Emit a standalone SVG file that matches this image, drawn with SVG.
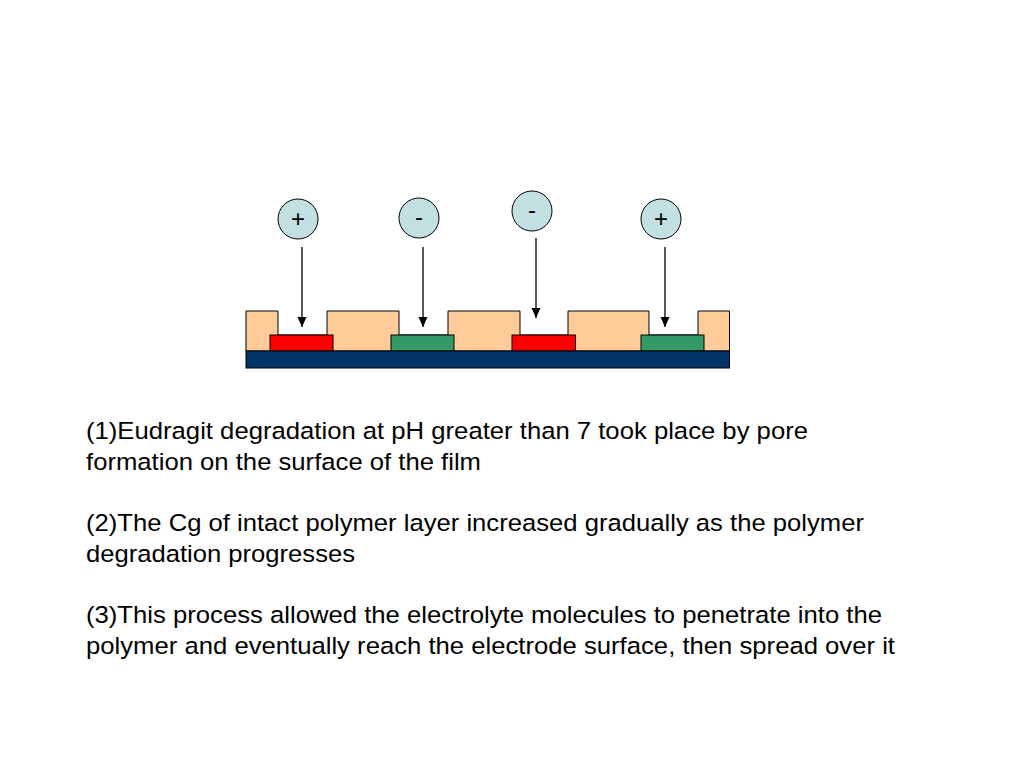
<svg xmlns="http://www.w3.org/2000/svg" width="1024" height="768" viewBox="0 0 1024 768">
<defs>
<style>
.ion{fill:#C2DFE2;stroke:#000;stroke-width:1}
.ionlbl{font-family:"Liberation Sans",Arial,sans-serif;font-size:24px;fill:#000;text-anchor:middle}
.film{fill:#FFCC99;stroke:#000;stroke-width:1}
.red{fill:#FF0000;stroke:#000;stroke-width:1}
.green{fill:#339966;stroke:#000;stroke-width:1}
.sub{fill:#003366;stroke:#000;stroke-width:1}
.arr{stroke:#000;stroke-width:1.3;fill:none;marker-end:url(#ah)}
.txt{font-family:"Liberation Sans",Arial,sans-serif;font-size:24.5px;fill:#000}
</style>
<marker id="ah" markerWidth="12" markerHeight="12" refX="10" refY="5" orient="auto" markerUnits="userSpaceOnUse">
<path d="M0,0.5 L10,5 L0,9.5 Z" fill="#000"/>
</marker>
</defs>
<rect width="1024" height="768" fill="#fff"/>
<g id="film">
<path class="film" d="M246,351 V311 H278 V335 H327 V311 H399 V335 H448 V311 H520 V335 H568 V311 H649 V335 H698 V311 H729.5 V351 Z"/>
</g>
<g id="electrode1"><rect class="red" x="270" y="335" width="63" height="16"/></g>
<g id="electrode2"><rect class="green" x="391" y="335" width="63" height="16"/></g>
<g id="electrode3"><rect class="red" x="512" y="335" width="63.5" height="16"/></g>
<g id="electrode4"><rect class="green" x="641" y="335" width="63" height="16"/></g>
<g id="substrate"><rect class="sub" x="246" y="351" width="483.5" height="17"/></g>
<g id="ion1"><circle class="ion" cx="298" cy="219" r="20"/><text class="ionlbl" x="298" y="227">+</text></g>
<g id="ion2"><circle class="ion" cx="419" cy="218" r="20"/><text class="ionlbl" x="419" y="225">-</text></g>
<g id="ion3"><circle class="ion" cx="532" cy="211" r="20"/><text class="ionlbl" x="532" y="218">-</text></g>
<g id="ion4"><circle class="ion" cx="661" cy="219" r="20"/><text class="ionlbl" x="661" y="227">+</text></g>
<g id="connectors">
<line class="arr" x1="302" y1="247" x2="302" y2="327"/>
<line class="arr" x1="423" y1="247" x2="423" y2="327"/>
<line class="arr" x1="536" y1="238" x2="536" y2="318"/>
<line class="arr" x1="665" y1="247" x2="665" y2="327"/>
</g>
<g id="text">
<text class="txt" x="86" y="439" textLength="722" lengthAdjust="spacingAndGlyphs">(1)Eudragit degradation at pH greater than 7 took place by pore</text>
<text class="txt" x="86" y="470" textLength="395" lengthAdjust="spacingAndGlyphs">formation on the surface of the film</text>
<text class="txt" x="86" y="531" textLength="778" lengthAdjust="spacingAndGlyphs">(2)The Cg of intact polymer layer increased gradually as the polymer</text>
<text class="txt" x="86" y="562" textLength="269" lengthAdjust="spacingAndGlyphs">degradation progresses</text>
<text class="txt" x="86" y="623" textLength="796" lengthAdjust="spacingAndGlyphs">(3)This process allowed the electrolyte molecules to penetrate into the</text>
<text class="txt" x="86" y="654" textLength="809" lengthAdjust="spacingAndGlyphs">polymer and eventually reach the electrode surface, then spread over it</text>
</g>
</svg>
